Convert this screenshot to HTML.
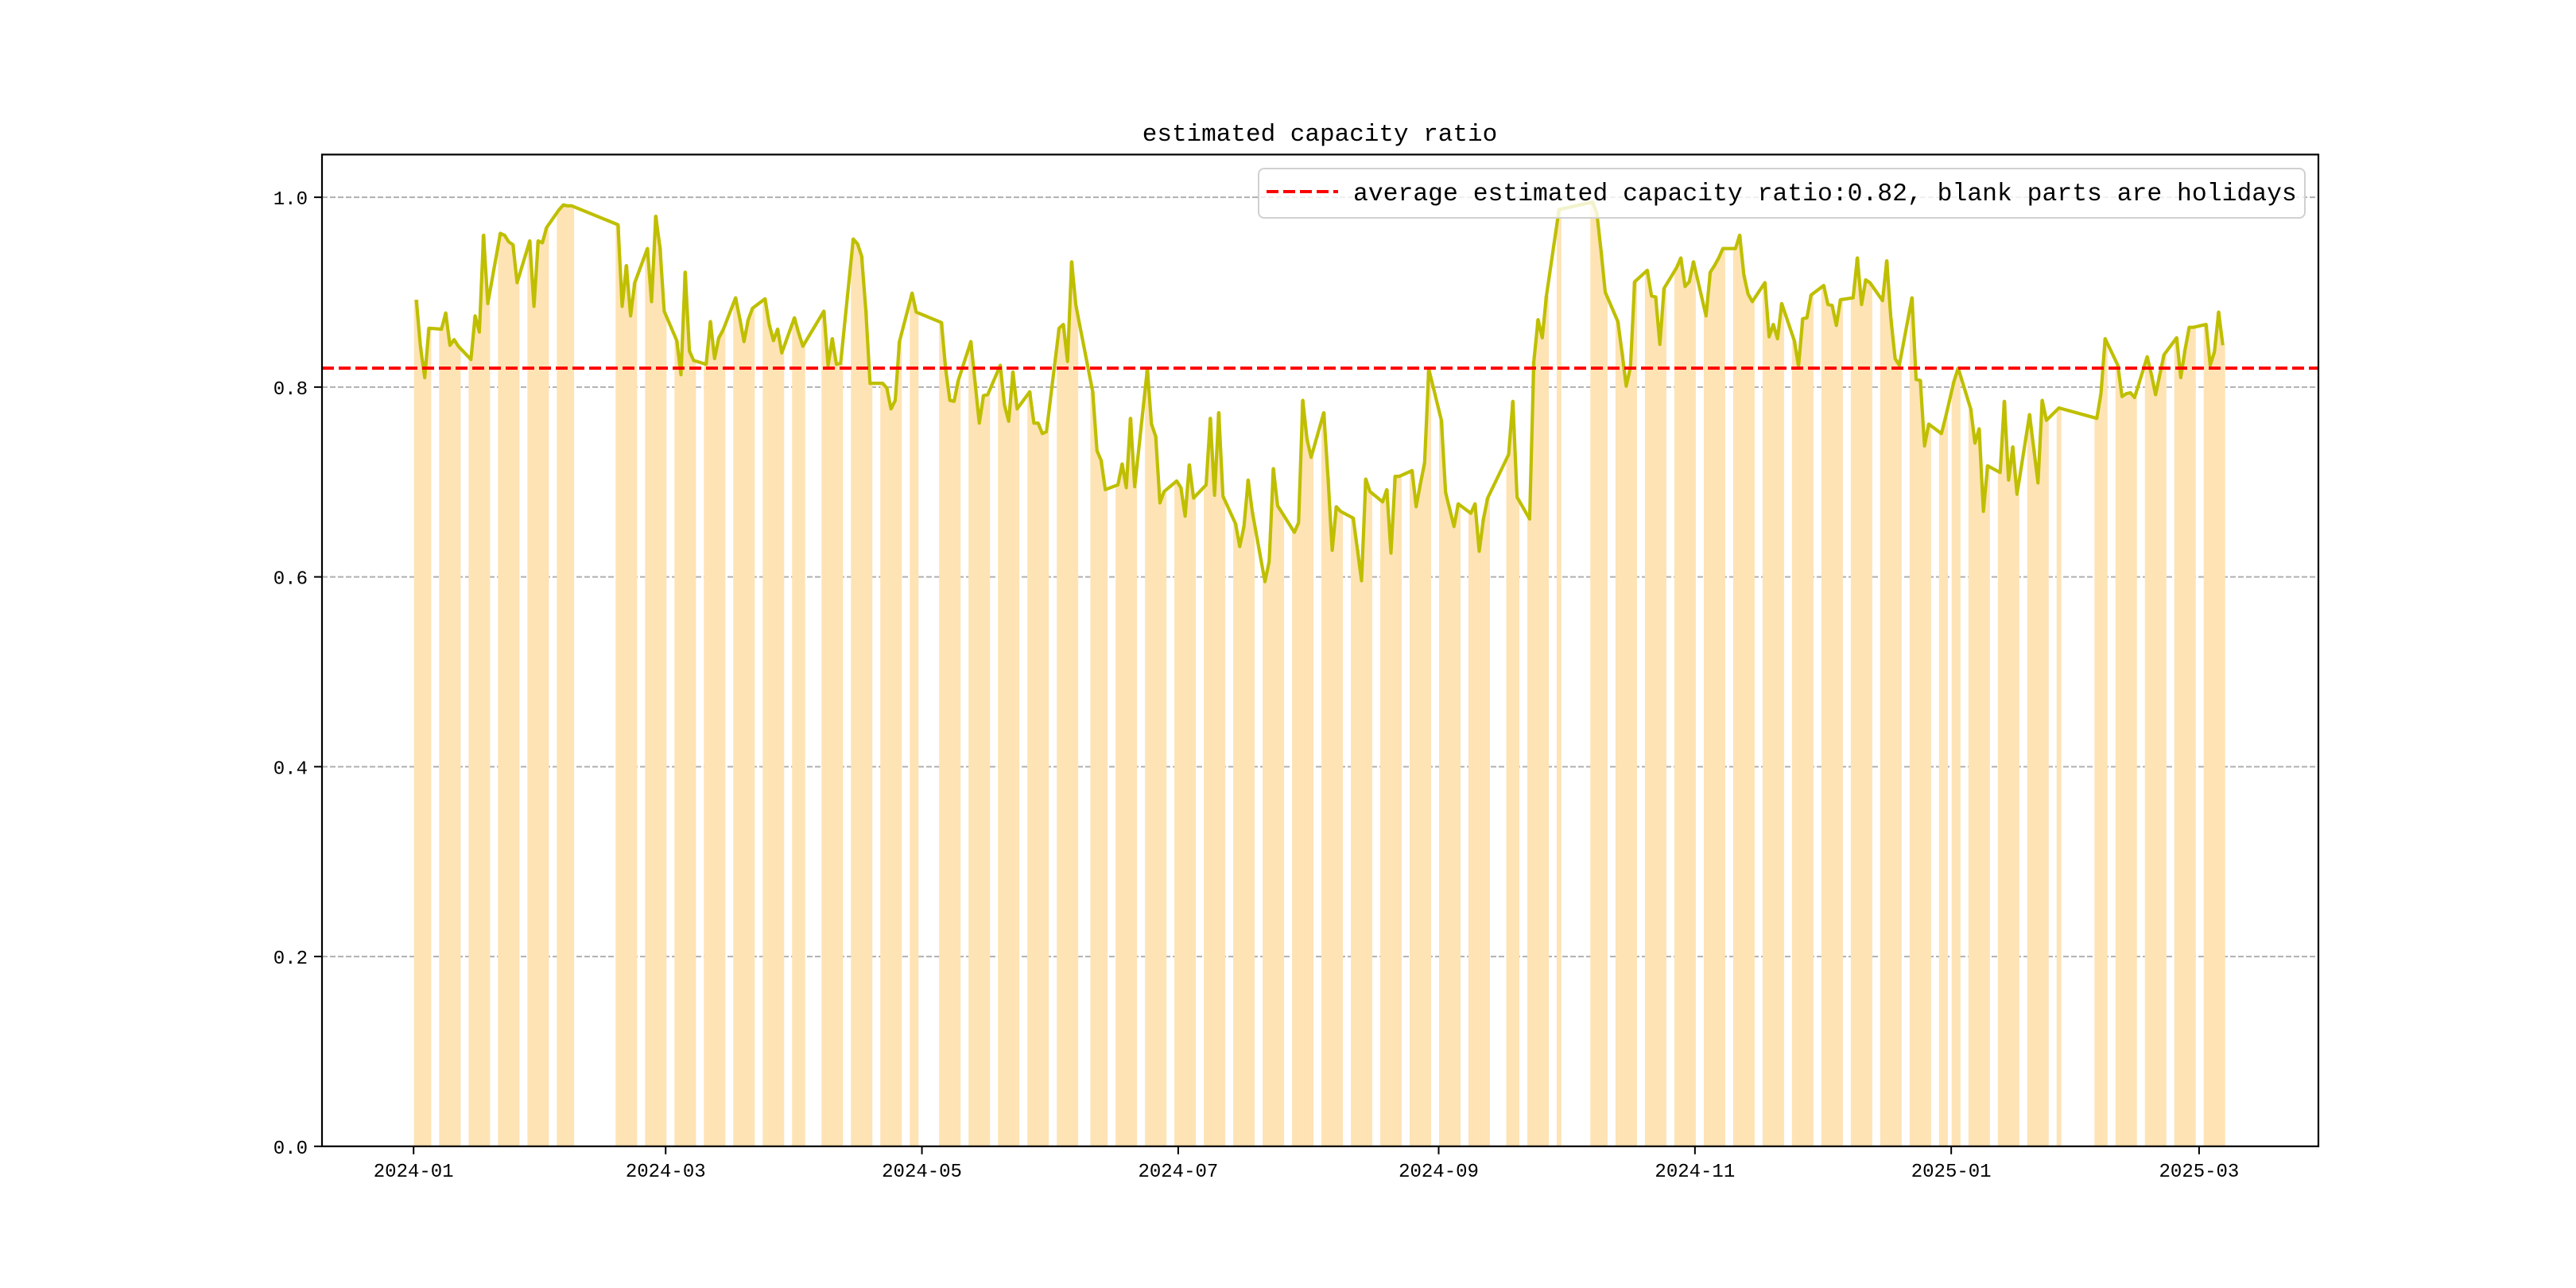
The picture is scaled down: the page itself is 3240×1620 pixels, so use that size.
<!DOCTYPE html>
<html><head><meta charset="utf-8"><style>
html,body{margin:0;padding:0;background:#fff;}
svg{display:block;font-family:"Liberation Mono","Noto Sans CJK SC",monospace;}
</style></head><body>
<svg id="chart" width="3240" height="1620" viewBox="0 0 3240 1620" xmlns="http://www.w3.org/2000/svg">
<rect width="3240" height="1620" fill="#fff"/>
<g id="grid"></g>
<g id="bars"></g>
<g id="lines"></g>
<g id="axes"></g>
<text x="1660" y="177" font-size="31" text-anchor="middle" fill="#000">estimated capacity ratio</text>
<g>
<rect x="1583" y="212" width="1316" height="62" rx="7" fill="#fff" fill-opacity="0.8" stroke="#d0d0d0" stroke-width="2"/>
<line x1="1593" y1="241" x2="1683" y2="241" stroke="#ff0000" stroke-width="4" stroke-dasharray="15,6"/>
<text x="1702" y="252" font-size="31.4" fill="#000">average estimated capacity ratio:0.82, blank parts are holidays</text>
</g>
</svg>
<script>
const startDate = "2024-01-01";
const endDate = "2025-03-07";
const holidays = ["2024-01-01","2024-02-09","2024-02-12","2024-02-13","2024-02-14","2024-02-15","2024-02-16","2024-04-04","2024-04-05","2024-05-01","2024-05-02","2024-05-03","2024-06-10","2024-09-16","2024-09-17","2024-10-01","2024-10-02","2024-10-03","2024-10-04","2024-10-07","2025-01-01","2025-01-28","2025-01-29","2025-01-30","2025-01-31","2025-02-03","2025-02-04"];
const ratioValues = [
.892,.842,.810,.862, .861,.878,.844,.850,.843, .829,.875,.858,.960,.888, .962,.960,.953,.950,.910, .954,.885,.954,.952,.968, .987,.992,.991,.991,
.971,.885,.928,.875,.910, .946,.890,.980,.947,.880, .849,.813,.921,.838,.828, .824,.869,.830,.852,.860, .894,.872,.848,.871,.883, .893,.866,.849,.861,.836,
.873,.857,.843, .880,.823,.851,.824,.825, .956,.951,.938,.881,.804, .804,.799,.777,.786,.848, .899,.879,
.868,.819,.786,.785,.807, .848,.805,.762,.791,.792, .823,.781,.764,.816,.777, .795,.762,.762,.751,.753,
.862,.866,.827,.932,.886, .795,.733,.723,.692, .697,.719,.694,.767,.695, .819,.761,.748,.678,.690,
.701,.694,.664,.718,.683, .697,.767,.686,.773,.685, .656,.632,.653,.702,.668, .595,.616,.714,.675,.668, .647,.657,.786,.745,.726,
.773,.705,.628,.674,.669, .662,.629,.596,.703,.690, .679,.692,.625,.706,.706, .712,.674,.698,.720,.819,
.765,.689,.671,.653,.677, .667,.677,.627,.661,.683, .729,.785,.684, .661,.827,.871,.852,.896, .987,
.995,.983,.944,.900, .869,.836,.801,.821,.911, .923,.896,.895,.845,.904, .926,.936,.906,.911,.932,
.875,.921,.928,.936,.946, .946,.960,.918,.898,.890, .910,.853,.866,.851,.888, .849,.822,.872,.873,.897,
.907,.887,.886,.865,.892, .894,.936,.887,.913,.910, .891,.933,.872,.830,.823, .894,.808,.807,.738,.761, .751,.768,
.806,.820, .777,.741,.756,.669,.717, .710,.785,.702,.737,.687, .771,.735,.699,.786,.765, .778,
.767,.793,.851, .823,.790,.793,.794,.789, .832,.813,.792,.813,.834, .852,.810,.839,.863,.863,
.866,.823,.837,.879,.844];
const averageRatio = 0.82;
const yTicks = [0.0, 0.2, 0.4, 0.6, 0.8, 1.0];
const yTickLabels = ["0.0","0.2","0.4","0.6","0.8","1.0"];
const xTickDates = ["2024-01-01","2024-03-01","2024-05-01","2024-07-01","2024-09-01","2024-11-01","2025-01-01","2025-03-01"];
const xTickLabels = ["2024-01","2024-03","2024-05","2024-07","2024-09","2024-11","2025-01","2025-03"];

const NS = "http://www.w3.org/2000/svg";
const AX = {l:405, r:2916, t:194.4, b:1441.8};
const X0 = -21.8, X1 = 453.4, Y0 = 0, Y1 = 1.045;
const SHIFT = -0.35;
const base = Date.UTC(2024,0,1);
function dayNum(s){const p=s.split("-");return Math.round((Date.UTC(+p[0],+p[1]-1,+p[2])-base)/86400000);}
function xScale(d){return AX.l+(d-X0)/(X1-X0)*(AX.r-AX.l);}
function yScale(v){return AX.b-(v-Y0)/(Y1-Y0)*(AX.b-AX.t);}
function mk(tag,attrs,parent){const e=document.createElementNS(NS,tag);for(const k in attrs)e.setAttribute(k,attrs[k]);parent.appendChild(e);return e;}

const hol = new Set(holidays.map(dayNum));
const workDays = [];
for(let d=dayNum(startDate); d<=dayNum(endDate); d++){
  const wd = new Date(base+d*86400000).getUTCDay();
  if(wd===0||wd===6||hol.has(d)) continue;
  workDays.push(d);
}
const n = Math.min(workDays.length, ratioValues.length);

const grid = document.getElementById("grid");
const bars = document.getElementById("bars");
const lines = document.getElementById("lines");
const axes = document.getElementById("axes");

yTicks.forEach((v,i)=>{
  const y=yScale(v);
  if(v>0){
    const g=mk("line",{x1:AX.l,x2:AX.r,y1:y,y2:y,stroke:"#b0b0b0","stroke-width":2,"stroke-dasharray":"7,3"},grid);
    
    
  }
  const t=mk("line",{x1:AX.l-10,x2:AX.l,y1:y,y2:y,stroke:"#000","stroke-width":2},axes);
  
  
  const lb=mk("text",{x:AX.l-18,y:y+9,"font-size":24,"text-anchor":"end",fill:"#000"},axes);
  lb.textContent=yTickLabels[i];
  
  
});

const bw=(AX.r-AX.l)/(X1-X0);
for(let i=0;i<n;i++){
  const x=xScale(workDays[i]+SHIFT);
  const y=yScale(ratioValues[i]);
  const r=mk("rect",{x:x-bw/2-0.3,y:y,width:bw+0.6,height:AX.b-y,fill:"#fee3b5"},bars);
  
  
}
let pts=[];
for(let i=0;i<n;i++) pts.push(xScale(workDays[i]+SHIFT).toFixed(1)+","+yScale(ratioValues[i]).toFixed(1));
const pl=mk("polyline",{points:pts.join(" "),fill:"none",stroke:"#bfbf00","stroke-width":4.2,"stroke-linejoin":"round"},lines);


const ya=yScale(averageRatio);
const av=mk("line",{x1:AX.l,x2:AX.r,y1:ya,y2:ya,stroke:"#ff0000","stroke-width":4,"stroke-dasharray":"15,6"},lines);



xTickDates.forEach((s,i)=>{
  const x=xScale(dayNum(s));
  const t=mk("line",{x1:x,x2:x,y1:AX.b,y2:AX.b+10,stroke:"#000","stroke-width":2},axes);
  
  
  const lb=mk("text",{x:x,y:AX.b+38,"font-size":24,"text-anchor":"middle",fill:"#000"},axes);
  lb.textContent=xTickLabels[i];
  
  
});
const frame=mk("rect",{x:AX.l,y:AX.t,width:AX.r-AX.l,height:AX.b-AX.t,fill:"none",stroke:"#000","stroke-width":2.2},axes);


</script>
</body></html>
